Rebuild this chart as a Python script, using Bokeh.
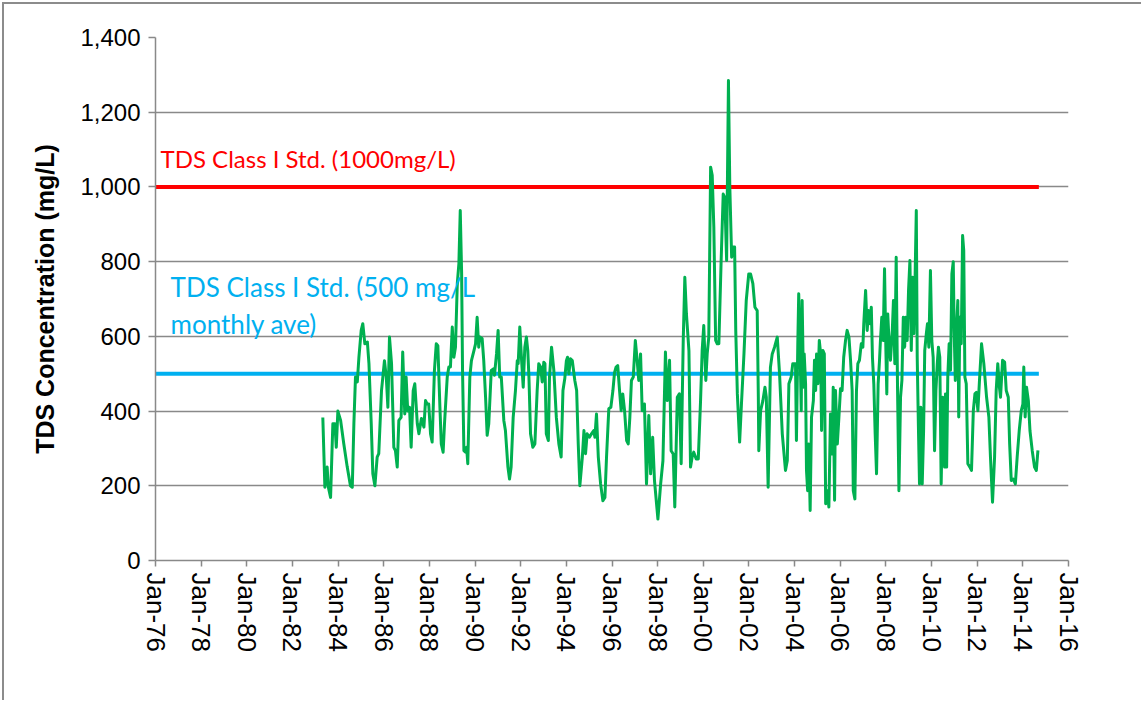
from datetime import datetime
from bokeh.plotting import figure
from bokeh.models import (Range1d, FixedTicker, DatetimeTickFormatter,
                          NumeralTickFormatter, Label, ColumnDataSource)
from bokeh.embed import file_html
from bokeh.resources import INLINE

# ---------------- data ----------------
sample_years = [
    1983.33, 1983.42, 1983.52, 1983.57, 1983.67, 1983.77, 1983.86, 1983.92, 1983.99, 1984.11,
    1984.25, 1984.40, 1984.54, 1984.62, 1984.69, 1984.76, 1984.84, 1984.91, 1985.01, 1985.08,
    1985.17, 1985.28, 1985.35, 1985.45, 1985.52, 1985.61, 1985.71, 1985.78, 1985.90, 1986.03,
    1986.11, 1986.18, 1986.25, 1986.34, 1986.44, 1986.51, 1986.59, 1986.66, 1986.76, 1986.83,
    1986.92, 1986.98, 1987.05, 1987.13, 1987.20, 1987.29, 1987.36, 1987.47, 1987.54, 1987.65,
    1987.76, 1987.83, 1987.90, 1987.97, 1988.05, 1988.12, 1988.22, 1988.30, 1988.37, 1988.46,
    1988.52, 1988.60, 1988.66, 1988.78, 1988.85, 1988.92, 1989.00, 1989.07, 1989.14, 1989.22,
    1989.29, 1989.35, 1989.41, 1989.45, 1989.51, 1989.58, 1989.63, 1989.68, 1989.77, 1989.84,
    1989.95, 1990.02, 1990.09, 1990.16, 1990.21, 1990.31, 1990.38, 1990.46, 1990.53, 1990.60,
    1990.71, 1990.80, 1990.85, 1990.94, 1991.01, 1991.08, 1991.15, 1991.26, 1991.33, 1991.44,
    1991.51, 1991.58, 1991.67, 1991.77, 1991.85, 1991.89, 1991.96, 1992.04, 1992.11, 1992.18,
    1992.25, 1992.31, 1992.36, 1992.43, 1992.53, 1992.62, 1992.72, 1992.79, 1992.87, 1992.94,
    1993.01, 1993.06, 1993.12, 1993.21, 1993.26, 1993.35, 1993.45, 1993.56, 1993.67, 1993.77,
    1993.85, 1993.93, 1994.00, 1994.05, 1994.11, 1994.18, 1994.26, 1994.37, 1994.45, 1994.52,
    1994.59, 1994.70, 1994.77, 1994.84, 1994.91, 1995.01, 1995.10, 1995.20, 1995.25, 1995.32,
    1995.40, 1995.50, 1995.60, 1995.69, 1995.76, 1995.86, 1995.95, 1996.04, 1996.11, 1996.18,
    1996.25, 1996.33, 1996.40, 1996.47, 1996.55, 1996.64, 1996.71, 1996.78, 1996.85, 1996.93,
    1997.02, 1997.10, 1997.17, 1997.25, 1997.32, 1997.42, 1997.51, 1997.61, 1997.69, 1997.78,
    1997.86, 1998.01, 1998.13, 1998.23, 1998.34, 1998.42, 1998.52, 1998.59, 1998.68, 1998.75,
    1998.86, 1998.95, 1999.03, 1999.12, 1999.19, 1999.26, 1999.37, 1999.44, 1999.51, 1999.58,
    1999.69, 1999.78, 1999.88, 1999.95, 2000.02, 2000.11, 2000.17, 2000.24, 2000.32, 2000.39,
    2000.46, 2000.54, 2000.61, 2000.68, 2000.78, 2000.87, 2000.94, 2001.02, 2001.10, 2001.16,
    2001.24, 2001.29, 2001.37, 2001.42, 2001.49, 2001.59, 2001.67, 2001.78, 2001.88, 2001.99,
    2002.07, 2002.17, 2002.26, 2002.36, 2002.41, 2002.43, 2002.51, 2002.61, 2002.70, 2002.76,
    2002.84, 2002.94, 2003.02, 2003.12, 2003.24, 2003.34, 2003.46, 2003.60, 2003.68, 2003.75,
    2003.85, 2003.92, 2004.04, 2004.08, 2004.14, 2004.18, 2004.25, 2004.29, 2004.33, 2004.39,
    2004.42, 2004.48, 2004.52, 2004.57, 2004.62, 2004.68, 2004.74, 2004.82, 2004.87, 2004.92,
    2004.96, 2005.02, 2005.08, 2005.14, 2005.18, 2005.24, 2005.30, 2005.36, 2005.43, 2005.50,
    2005.57, 2005.65, 2005.69, 2005.75, 2005.79, 2005.87, 2005.94, 2006.01, 2006.08, 2006.15,
    2006.23, 2006.30, 2006.38, 2006.45, 2006.52, 2006.57, 2006.64, 2006.71, 2006.77, 2006.84,
    2006.92, 2006.99, 2007.03, 2007.11, 2007.18, 2007.24, 2007.30, 2007.36, 2007.41, 2007.47,
    2007.53, 2007.59, 2007.66, 2007.72, 2007.76, 2007.82, 2007.88, 2007.94, 2008.00, 2008.04,
    2008.08, 2008.15, 2008.20, 2008.28, 2008.33, 2008.39, 2008.45, 2008.51, 2008.57, 2008.64,
    2008.70, 2008.76, 2008.82, 2008.87, 2008.93, 2008.99, 2009.05, 2009.11, 2009.17, 2009.22,
    2009.28, 2009.33, 2009.37, 2009.42, 2009.47, 2009.53, 2009.59, 2009.65, 2009.70, 2009.77,
    2009.82, 2009.88, 2009.95, 2010.01, 2010.07, 2010.13, 2010.19, 2010.25, 2010.30, 2010.36,
    2010.42, 2010.49, 2010.57, 2010.61, 2010.66, 2010.71, 2010.77, 2010.83, 2010.89, 2010.95,
    2010.99, 2011.04, 2011.09, 2011.15, 2011.19, 2011.24, 2011.30, 2011.36, 2011.41, 2011.46,
    2011.52, 2011.59, 2011.68, 2011.75, 2011.83, 2011.90, 2011.96, 2012.03, 2012.10, 2012.19,
    2012.29, 2012.41, 2012.51, 2012.58, 2012.67, 2012.76, 2012.83, 2012.90, 2012.97, 2013.02,
    2013.11, 2013.20, 2013.27, 2013.36, 2013.42, 2013.49, 2013.58, 2013.67, 2013.75, 2013.84,
    2013.93, 2014.00, 2014.04, 2014.10, 2014.16, 2014.24, 2014.31, 2014.41, 2014.51, 2014.59,
    2014.66,
]

tds_mg_l = [
    383, 196, 250, 197, 169, 366, 366, 303, 400, 375,
    312, 250, 200, 196, 366, 491, 478, 544, 616, 634,
    580, 585, 527, 366, 232, 200, 277, 286, 455, 535,
    491, 410, 598, 527, 303, 294, 250, 375, 383, 558,
    392, 491, 400, 410, 303, 455, 473, 366, 339, 380,
    357, 428, 419, 419, 339, 317, 509, 580, 575, 410,
    312, 290, 366, 491, 518, 518, 625, 544, 571, 741,
    795, 937, 768, 509, 294, 290, 303, 259, 491, 535,
    562, 580, 651, 571, 598, 594, 535, 437, 335, 366,
    509, 513, 496, 553, 616, 491, 491, 375, 348, 250,
    218, 250, 383, 455, 535, 527, 625, 535, 464, 571,
    598, 562, 491, 339, 303, 312, 455, 527, 518, 478,
    531, 527, 339, 321, 491, 571, 509, 383, 312, 277,
    455, 487, 535, 544, 500, 540, 535, 482, 455, 312,
    200, 277, 348, 286, 339, 330, 339, 348, 330, 392,
    277, 205, 160, 169, 277, 406, 410, 455, 503, 518,
    522, 455, 401, 446, 401, 321, 312, 383, 482, 491,
    589, 536, 482, 553, 401, 419, 205, 388, 232, 330,
    214, 111, 205, 267, 558, 428, 536, 294, 285, 143,
    437, 446, 259, 589, 758, 660, 562, 250, 277, 290,
    272, 272, 428, 562, 629, 482, 553, 598, 1053, 1031,
    893, 589, 580, 580, 803, 981, 972, 803, 1285, 999,
    812, 839, 839, 616, 446, 317, 419, 553, 696, 767,
    767, 741, 678, 669, 437, 294, 401, 428, 464, 437,
    196, 517, 553, 571, 598, 500, 339, 241, 268, 473,
    491, 527, 527, 321, 580, 714, 536, 401, 696, 464,
    553, 473, 241, 187, 312, 134, 384, 428, 536, 455,
    553, 473, 589, 553, 348, 562, 553, 152, 187, 143,
    392, 285, 464, 161, 455, 312, 384, 460, 455, 544,
    589, 616, 598, 536, 455, 187, 165, 455, 527, 536,
    580, 571, 634, 723, 616, 669, 634, 678, 544, 473,
    339, 232, 473, 536, 589, 651, 589, 781, 562, 446,
    660, 571, 536, 616, 696, 527, 812, 455, 187, 437,
    482, 651, 571, 651, 589, 723, 803, 562, 758, 607,
    767, 937, 544, 366, 205, 410, 205, 348, 562, 607,
    634, 571, 776, 589, 544, 294, 455, 527, 571, 544,
    205, 437, 250, 446, 250, 491, 580, 509, 767, 800,
    616, 482, 616, 696, 384, 651, 580, 870, 830, 491,
    473, 259, 250, 241, 401, 446, 450, 401, 482, 580,
    527, 437, 384, 277, 156, 277, 455, 527, 464, 437,
    536, 531, 455, 437, 312, 214, 218, 205, 277, 348,
    401, 419, 518, 384, 464, 428, 348, 294, 250, 241,
    295,
]

class_i_std = 1000          # mg/L
monthly_ave_std = 500       # mg/L
std_years = [1976.0, 2014.70]
tick_years = list(range(1976, 2017, 2))
y_ticks = list(range(0, 1401, 200))

label_1000 = "TDS Class I Std. (1000mg/L)"
label_500_a = "TDS Class I Std. (500 mg/L"
label_500_b = "monthly ave)"
y_title = "TDS Concentration (mg/L)"

# ---------------- helpers ----------------
EPOCH = datetime(1970, 1, 1)


def dec_to_ms(y):
    yr = int(y)
    a = datetime(yr, 1, 1)
    b = datetime(yr + 1, 1, 1)
    d = a + (b - a) * (y - yr)
    return (d - EPOCH).total_seconds() * 1000.0


def year_ms(yr):
    return (datetime(yr, 1, 1) - EPOCH).total_seconds() * 1000.0


src = ColumnDataSource(dict(x=[dec_to_ms(v) for v in sample_years], y=tds_mg_l))

GRID = "#898989"

p = figure(width=1139, height=698, x_axis_type="datetime",
           x_range=Range1d(year_ms(1976), year_ms(2016)),
           y_range=Range1d(0, 1400),
           output_backend="svg", toolbar_location=None,
           min_border_left=151, min_border_right=75,
           min_border_top=33, min_border_bottom=142)
p.outline_line_color = None
p.background_fill_color = "white"
p.border_fill_color = "white"
p.styles = {"border-top": "2px solid #8c8c8c", "border-left": "2px solid #8c8c8c",
            "margin-left": "2px", "margin-top": "2px"}

# grid
p.xgrid.grid_line_color = None
p.ygrid.grid_line_color = GRID
p.ygrid.grid_line_width = 1.5
p.ygrid.ticker = FixedTicker(ticks=y_ticks)

# y axis
p.yaxis.ticker = FixedTicker(ticks=y_ticks)
p.yaxis.formatter = NumeralTickFormatter(format="0,0")
p.yaxis.axis_line_color = GRID
p.yaxis.axis_line_width = 1.5
p.yaxis.major_tick_line_color = GRID
p.yaxis.major_tick_line_width = 1.5
p.yaxis.major_tick_in = 0
p.yaxis.major_tick_out = 7
p.yaxis.minor_tick_line_color = None
p.yaxis.major_label_text_font = "Liberation Sans"
p.yaxis.major_label_text_font_size = "24px"
p.yaxis.major_label_text_color = "black"
p.yaxis.major_label_standoff = 8
p.yaxis.axis_label = y_title
p.yaxis.axis_label_text_font = "Liberation Sans"
p.yaxis.axis_label_text_font_style = "bold"
p.yaxis.axis_label_text_font_size = "25px"
p.yaxis.axis_label_text_color = "black"
p.yaxis.axis_label_standoff = 18

# x axis
p.xaxis.ticker = FixedTicker(ticks=[year_ms(y) for y in tick_years])
fmt = "%b-%y"
p.xaxis.formatter = DatetimeTickFormatter(years=fmt, months=fmt, days=fmt,
                                          hours=fmt, minutes=fmt, seconds=fmt,
                                          milliseconds=fmt, microseconds=fmt,
                                          context=None)
p.xaxis.major_label_orientation = "vertical"
p.xaxis.axis_line_color = GRID
p.xaxis.axis_line_width = 1.5
p.xaxis.major_tick_line_color = GRID
p.xaxis.major_tick_line_width = 1.5
p.xaxis.major_tick_in = 0
p.xaxis.major_tick_out = 6
p.xaxis.minor_tick_line_color = None
p.xaxis.major_label_text_font = "Liberation Sans"
p.xaxis.major_label_text_font_size = "26px"
p.xaxis.major_label_text_color = "black"
p.xaxis.major_label_standoff = 6

# standard lines
std_x = [dec_to_ms(v) for v in std_years]
p.line(std_x, [class_i_std] * 2, line_color="#FF0000", line_width=4)
p.line(std_x, [monthly_ave_std] * 2, line_color="#00B0F0", line_width=4)

# series
p.line("x", "y", source=src, line_color="#00B050", line_width=3,
       line_join="round")

# labels
lab_font = "Lato"
p.add_layout(Label(x=dec_to_ms(1976.22), y=1076, text=label_1000,
                   text_color="#FF0000", text_font=lab_font,
                   text_font_size="24px", text_baseline="alphabetic"))
p.add_layout(Label(x=dec_to_ms(1976.66), y=732, text=label_500_a,
                   text_color="#00B0F0", text_font=lab_font,
                   text_font_size="26px", text_baseline="alphabetic"))
p.add_layout(Label(x=dec_to_ms(1976.66), y=634, text=label_500_b,
                   text_color="#00B0F0", text_font=lab_font,
                   text_font_size="26px", text_baseline="alphabetic"))

open("out.html", "w").write(file_html(p, INLINE))
